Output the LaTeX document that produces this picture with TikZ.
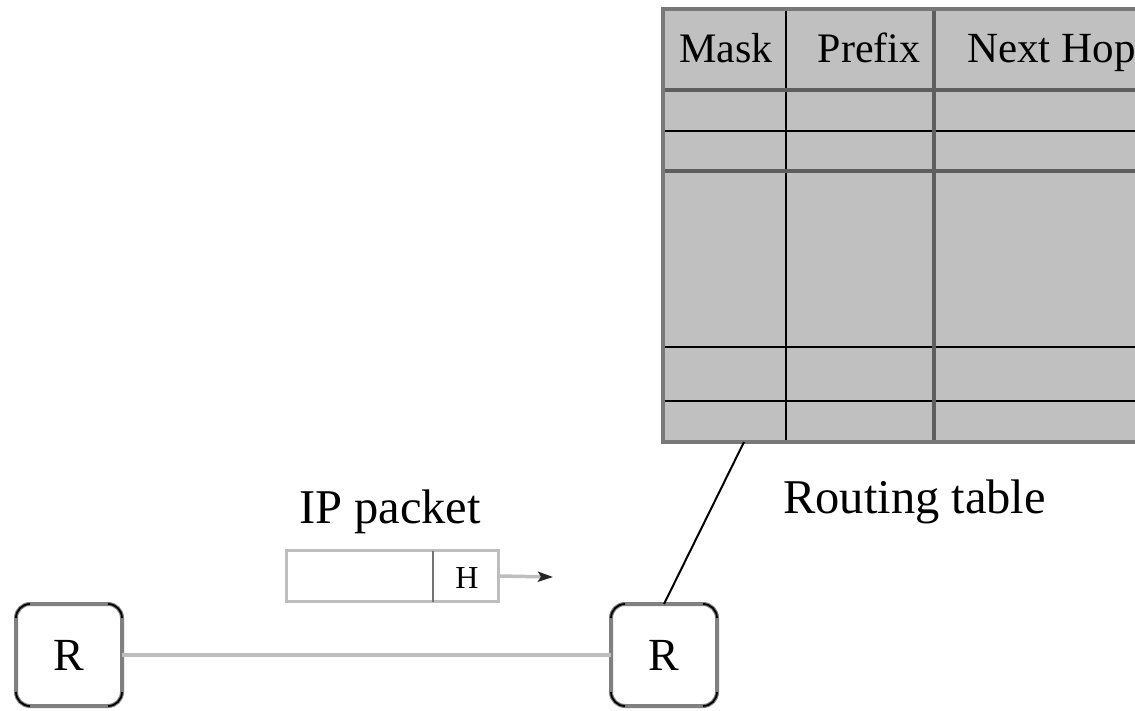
\documentclass[tikz,border=0pt]{standalone}
\usepackage{fontspec}
\setmainfont{Liberation Serif}
\usetikzlibrary{arrows.meta}
\definecolor{cellgray}{HTML}{C0C0C0}
\definecolor{ruledark}{HTML}{5E5E5E}
\definecolor{framegray}{HTML}{787878}
\definecolor{linkgray}{HTML}{BEBEBE}
\definecolor{boxgray}{HTML}{808080}

% black rounded corners on top of a router box
\newcommand\routerarcs[1]{%
  \draw[cornerline] ([yshift=-14pt]#1.north west) arc[start angle=180,end angle=90,radius=14pt];
  \draw[cornerline] ([xshift=-14pt]#1.north east) arc[start angle=90,end angle=0,radius=14pt];
  \draw[cornerline] ([yshift=14pt]#1.south east) arc[start angle=0,end angle=-90,radius=14pt];
  \draw[cornerline] ([xshift=14pt]#1.south west) arc[start angle=270,end angle=180,radius=14pt];
}

\tikzset{
  router/.style={rectangle, rounded corners=14pt, draw=boxgray, line width=4pt,
    fill=white, minimum width=106pt, minimum height=102pt, inner sep=0pt,
    outer sep=0pt, font=\fontsize{46}{50}\selectfont},
  cornerline/.style={draw=black, line width=1.8pt},
  linkline/.style={draw=linkgray, line width=4.5pt},
  tableline/.style={draw=black, line width=2pt},
  thickrule/.style={draw=ruledark, line width=4.5pt},
  thinrule/.style={draw=black, line width=2.6pt},
  frame/.style={draw=framegray, line width=4.5pt},
  headtext/.style={font=\fontsize{42}{46}\selectfont, inner sep=0pt},
  labeltext/.style={font=\fontsize{48.5}{54}\selectfont, inner sep=0pt},
  packet/.style={rectangle, draw=linkgray, line width=3pt, fill=white,
    minimum width=212pt, minimum height=51pt, inner sep=0pt, outer sep=0pt},
  divider/.style={draw=boxgray!90!black, line width=2pt},
  pktarrow/.style={draw=linkgray, line width=3.5pt,
    -{Stealth[length=15pt,width=10pt,inset=3pt,color=black!85]}},
}

\begin{document}
\begin{tikzpicture}[x=1pt,y=-1pt]
  \useasboundingbox (0,0) rectangle (1135,711);
  \clip (0,0) rectangle (1135,711);

  % routing table
  \fill[cellgray] (663,9) rectangle (1150,442);
  \draw[thinrule] (663,131) -- (1150,131);
  \draw[thinrule] (663,347) -- (1150,347);
  \draw[thinrule] (663,401) -- (1150,401);
  \draw[thinrule] (786,9) -- (786,442);
  \draw[thickrule] (663,90) -- (1150,90);
  \draw[thickrule] (663,171) -- (1150,171);
  \draw[thickrule] (934,9) -- (934,442);
  \draw[frame] (1150,9) -- (663,9) -- (663,442) -- (1150,442);

  \node[headtext, anchor=base] (hmask) at (726,63) {Mask};
  \node[headtext, anchor=base] (hprefix) at (869,63) {Prefix};
  \node[headtext, anchor=base west, font=\fontsize{43}{47}\selectfont] (hnext) at (967,63) {Next Hop};
  \node[labeltext, anchor=base west] (rtlabel) at (783,513) {Routing table};
  \coordinate (tb) at (744,442);

  % routers and link
  \node[router] (r1) at (69,655) {R};
  \node[router] (r2) at (664,655) {R};
  \routerarcs{r1}
  \routerarcs{r2}
  \draw[linkline] (r1.east) -- (r2.west);
  \draw[tableline] (r2.north) -- (tb);

  % IP packet
  \node[labeltext, anchor=base] (iplabel) at (390,523) {IP packet};
  \node[packet] (pkt) at (392.5,576) {};
  \coordinate (pd) at (433,576);
  \draw[divider] (pd |- pkt.north) -- (pd |- pkt.south);
  \node[font=\fontsize{32}{36}\selectfont, inner sep=0pt] (hdr) at (467,578) {H};
  \coordinate (pe) at (553,577);
  \draw[pktarrow] (pkt.east) -- (pe);
\end{tikzpicture}
\end{document}
